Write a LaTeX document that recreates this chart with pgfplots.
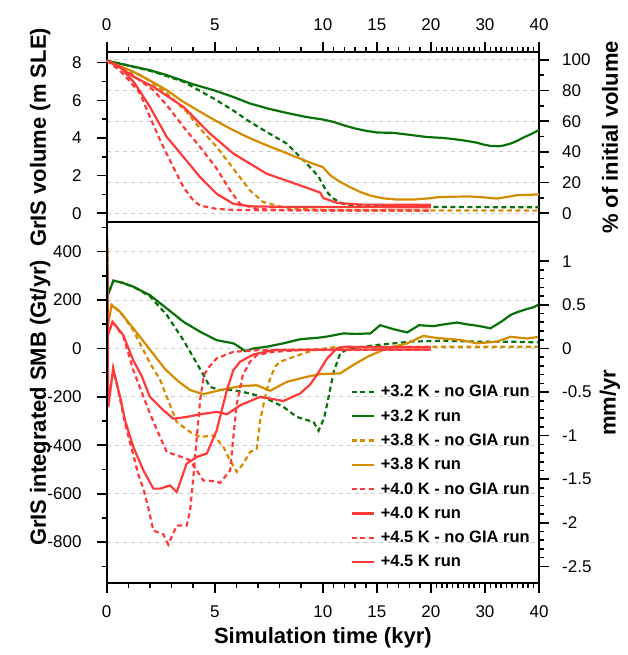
\documentclass[border=0pt]{standalone}
\usepackage{fontspec}
\setmainfont{Liberation Sans}
\usepackage{pgfplots}
\pgfplotsset{compat=1.18}

\definecolor{cgreen}{RGB}{10,112,10}
\definecolor{corange}{RGB}{212,140,0}
\definecolor{cred}{RGB}{255,58,58}

\pgfplotsset{
  panel/.style={
    scale only axis, width=432.3pt,
    axis line style={line width=2pt},
    tick align=outside, major tick length=10pt, minor tick length=5pt,
    every tick/.style={black, line width=1.6pt},
    /pgf/number format/assume math mode=true,
    label style={font=\bfseries\fontsize{22}{22}\selectfont},
    grid style={line width=1pt, gray!40, dash pattern=on 4pt off 4pt},
  },
  gd/.style={cgreen, line width=2.2pt, dash pattern=on 5pt off 3.5pt},
  gs/.style={cgreen, line width=2.2pt},
  od/.style={corange, line width=2.2pt, dash pattern=on 5pt off 3.5pt},
  os/.style={corange, line width=2.2pt},
  rd/.style={cred, line width=2.2pt, dash pattern=on 5pt off 3.5pt},
  rs/.style={cred, line width=2.2pt},
  % tick labels kept off the outward ticks by a blank gap inside the label
  lefttl/.style={yticklabel style={font=\fontsize{17}{17}\selectfont, inner sep=0pt, anchor=east},
    yticklabel={\pgfmathprintnumber{\tick}\hspace*{15pt}}},
  righttl/.style={yticklabel style={font=\fontsize{17}{17}\selectfont, inner sep=0pt, anchor=west}},
}

\begin{document}
\begin{tikzpicture}
\useasboundingbox (0pt,0pt) rectangle (627pt,655pt);

% ---------- top panel: right scale (grid) ----------
\begin{axis}[panel, righttl, at={(106.7pt,432.7pt)}, anchor=south west, height=169.8pt,
  xmin=0, xmax=1, xtick=\empty,
  ymin=-5.9, ymax=104.8, ytick={0,20,...,100}, minor ytick={10,30,50,70,90},
  yticklabels={\hspace*{13pt}0,\hspace*{13pt}20,\hspace*{13pt}40,\hspace*{13pt}60,\hspace*{13pt}80,\hspace*{13pt}100},
  ytick pos=right, yticklabel pos=right, ymajorgrids,
  ylabel={\% of initial volume},
  ylabel style={at={(axis description cs:1.164,0.5)}, anchor=center, rotate=0},
]
\end{axis}

% ---------- top panel: volume ----------
\begin{axis}[panel, lefttl, at={(106.7pt,432.7pt)}, anchor=south west, height=169.8pt,
  x coord trafo/.code={\pgfmathparse{ifthenelse(#1>20,15+(#1-20)/4,ifthenelse(#1>10,10+(#1-10)/2,#1))}},
  xmin=0, xmax=40,
  xtick={0,5,10,15,20,30,40}, xticklabels={0,5,10,15,20,30,40},
  minor xtick={1,2,3,4,6,7,8,9,11,12,13,14,16,17,18,19,21,22,23,24,25,26,27,28,29,31,32,33,34,35,36,37,38,39},
  xtick pos=right, xticklabel pos=right,
  xticklabel style={font=\fontsize{17}{17}\selectfont, inner sep=0pt, anchor=south, yshift=12pt},
  ymin=-0.48, ymax=8.54, ytick={0,2,4,6,8}, minor ytick={1,3,5,7},
  ytick pos=left,
  ylabel={GrIS volume (m SLE)},
  ylabel style={at={(axis description cs:-0.154,0.5)}, anchor=center},
]
\addplot[gd] coordinates {(0,8.1)(1,7.85)(2.16,7.52)(3.55,6.99)(4.94,6.1)(5.8,5.5)(6.63,4.85)(7.5,4.25)(8.33,3.7)(9.26,2.63)(9.8,1.95)(10.06,1.45)(10.5,1.05)(11,0.77)(11.9,0.5)(13,0.42)(15,0.37)(20,0.33)(40,0.32)};
\addplot[gs] coordinates {(0,8.1)(1,7.85)(2,7.6)(2.78,7.34)(4,6.85)(4.94,6.54)(5.8,6.2)(6.63,5.83)(7.5,5.55)(8.33,5.33)(9.2,5.12)(10,4.98)(11,4.85)(11.9,4.68)(13,4.5)(14,4.38)(15,4.29)(16.5,4.27)(18,4.17)(19.6,4.05)(22.3,4.0)(24.5,3.93)(26.7,3.84)(28.5,3.75)(29.7,3.65)(31,3.58)(32.5,3.56)(33.5,3.6)(34.7,3.70)(36,3.85)(37.1,4.02)(38.5,4.2)(40,4.42)};
\addplot[od] coordinates {(0,8.1)(1,7.6)(1.7,7.26)(2.78,6.37)(3.7,5.39)(4.32,4.5)(5.09,3.52)(5.86,2.37)(6.63,1.21)(7.25,0.59)(8.18,0.32)(9,0.22)(10,0.18)(20,0.15)(40,0.14)};
\addplot[os] coordinates {(0,8.1)(1.23,7.52)(2,7.05)(2.78,6.54)(3.5,5.95)(4.32,5.39)(5.1,4.88)(5.86,4.41)(6.6,4.0)(7.4,3.61)(8.2,3.25)(8.95,2.9)(9.5,2.65)(10,2.45)(10.7,2.01)(11.5,1.7)(12.5,1.39)(13.5,1.12)(14.4,0.94)(15.5,0.8)(16.8,0.73)(18.4,0.73)(20,0.8)(21.1,0.85)(24,0.88)(27.3,0.89)(30,0.84)(32.2,0.78)(34,0.86)(35.9,0.96)(38,0.98)(40,1.0)};
\addplot[rd] coordinates {(0,8.1)(1,7.5)(2.16,6.54)(2.78,5.74)(3.55,4.59)(4.32,3.52)(5.09,2.37)(5.71,1.21)(6.17,0.5)(6.94,0.23)(8,0.17)(10,0.15)(20,0.14)};
\addplot[rs] coordinates {(0,8.1)(0.6,7.75)(1.23,7.26)(2.16,6.72)(3.55,5.65)(4.78,4.23)(5.86,3.17)(7.4,2.1)(8.95,1.48)(9.87,1.1)(10.06,0.8)(10.5,0.72)(11.3,0.55)(13.5,0.46)(20,0.45)};
\addplot[rd] coordinates {(0,8.1)(0.6,7.6)(1.0,7.1)(1.54,6.37)(2.0,5.12)(2.47,3.88)(3.08,2.45)(3.55,1.39)(4.01,0.68)(4.32,0.41)(5.09,0.23)(6,0.17)(10,0.15)(20,0.14)};
\addplot[rs] coordinates {(0,8.1)(0.62,7.79)(1.3,6.9)(2.0,5.65)(2.78,4.05)(3.55,2.99)(4.32,1.92)(5.09,1.03)(5.86,0.5)(6.63,0.37)(8,0.34)(10,0.33)(20,0.32)};
\end{axis}

% ---------- bottom panel: SMB ----------
\begin{axis}[panel, lefttl, at={(106.7pt,71.7pt)}, anchor=south west, height=361pt,
  x coord trafo/.code={\pgfmathparse{ifthenelse(#1>20,15+(#1-20)/4,ifthenelse(#1>10,10+(#1-10)/2,#1))}},
  xmin=0, xmax=40,
  xtick={0,5,10,15,20,30,40}, xticklabels={0,5,10,15,20,30,40},
  minor xtick={1,2,3,4,6,7,8,9,11,12,13,14,16,17,18,19,21,22,23,24,25,26,27,28,29,31,32,33,34,35,36,37,38,39},
  xtick pos=left, xticklabel pos=left,
  xticklabel style={font=\fontsize{17}{17}\selectfont, inner sep=0pt, anchor=north, yshift=-12pt},
  ymin=-970, ymax=521, ytick={-800,-600,...,400}, minor ytick={-900,-700,...,500},
  ytick pos=left, ymajorgrids,
  xlabel={Simulation time (kyr)},
  xlabel style={at={(axis description cs:0.5,-0.152)}, anchor=center},
  ylabel={GrIS integrated SMB (Gt/yr)},
  ylabel style={at={(axis description cs:-0.154,0.5)}, anchor=center},
  legend cell align=left,
  legend image code/.code={\draw[#1] (0pt,0pt) -- (22pt,0pt);},
  legend style={at={(0.979,0.549)}, anchor=north east, draw=none, fill=none,
    inner sep=0pt, font=\bfseries\fontsize{16.5}{16.5}\selectfont,
    row sep=11.3pt, column sep=6pt, nodes={inner sep=0pt}},
]
\addplot[gd] coordinates {(0,520)(0.05,220)(0.31,280)(0.7,272)(1.23,255)(2.0,215)(2.78,138)(3.55,34)(4.32,-85)(4.78,-159)(5.25,-172)(5.86,-172)(6.63,-186)(7.4,-207)(8.18,-242)(8.8,-283)(9.57,-304)(9.8,-340)(10.1,-290)(10.4,-230)(11,-97)(11.6,-21)(12.4,0)(15,14)(18.1,28)(22.3,32)(28.5,28)(34.7,28)(40,25)};
\addlegendentry{+3.2 K - no GIA run}
\addplot[gs] coordinates {(0,520)(0.05,220)(0.31,280)(0.7,272)(1.23,255)(2.0,220)(2.78,165)(3.55,110)(4.32,69)(5.09,34)(5.86,21)(6.1,8)(6.4,-11)(6.8,0)(7.4,7)(8.18,21)(8.95,38)(9.87,45)(10.5,50)(11.9,62)(13,60)(14.4,62)(15.3,96)(16.5,80)(17.8,66)(18.9,96)(20.5,92)(22.3,99)(24.8,107)(26.5,100)(27.9,96)(29.5,90)(31,83)(33,110)(34.7,138)(36,150)(37.8,163)(39,170)(40,182)};
\addlegendentry{+3.2 K run}
\addplot[od] coordinates {(0,520)(0.05,96)(0.23,179)(0.62,151)(1.23,75)(2.0,-60)(2.47,-130)(2.78,-200)(3.24,-304)(3.86,-345)(4.32,-366)(4.94,-359)(5.4,-407)(5.71,-462)(6.02,-510)(6.32,-476)(6.63,-428)(6.94,-414)(7.1,-297)(7.4,-172)(7.56,-124)(7.8,-75)(8.02,-55)(8.64,-35)(9.57,-7)(11,5)(15,7)(40,7)};
\addlegendentry{+3.8 K - no GIA run}
\addplot[os] coordinates {(0,520)(0.05,96)(0.23,179)(0.62,151)(1.23,83)(2.0,-5)(2.7,-85)(3.3,-135)(3.86,-172)(4.47,-189)(5.25,-172)(6.17,-156)(6.94,-152)(7.56,-175)(8.33,-138)(9.26,-117)(9.88,-106)(11.6,-103)(12.8,-69)(14.1,-35)(15.9,0)(17.8,21)(19.3,52)(20.5,45)(22.3,41)(25.5,35)(28.5,21)(32.2,28)(34.7,48)(37.8,41)(40,48)};
\addlegendentry{+3.8 K run}
\addplot[rd] coordinates {(0,520)(0.05,55)(0.27,110)(0.77,50)(1.23,-90)(2.0,-269)(2.47,-366)(2.78,-428)(3.39,-446)(3.86,-462)(4.17,-504)(4.47,-545)(4.94,-548)(5.25,-555)(5.71,-504)(5.86,-366)(6.02,-228)(6.3,-110)(6.63,-55)(6.94,-28)(7.71,-14)(9,-7)(20,-5)};
\addlegendentry{+4.0 K - no GIA run}
\addplot[rs] coordinates {(0,520)(0.05,55)(0.27,110)(0.77,55)(1.23,-50)(1.6,-110)(2.0,-200)(2.62,-255)(3.08,-290)(3.7,-283)(4.32,-272)(5.09,-262)(5.56,-272)(6.17,-235)(7.1,-200)(8.18,-217)(8.95,-186)(9.4,-150)(9.72,-110)(10.4,-41)(11.3,0)(12,7)(15,5)(20,5)};
\addlegendentry{+4.0 K run}
\addplot[rd] coordinates {(0,520)(0.07,-242)(0.3,-83)(0.62,-210)(0.85,-310)(1.23,-440)(1.46,-520)(1.7,-580)(1.93,-660)(2.16,-752)(2.62,-768)(2.85,-810)(3.24,-731)(3.7,-731)(3.86,-669)(4.01,-531)(4.17,-366)(4.32,-214)(4.5,-110)(4.7,-80)(5.09,-41)(5.86,-14)(7,-7)(10,-5)(20,-5)};
\addlegendentry{+4.5 K - no GIA run}
\addplot[rs] coordinates {(0,520)(0.07,-242)(0.3,-83)(0.62,-200)(0.85,-297)(1.23,-407)(1.7,-504)(2.16,-579)(2.47,-579)(2.93,-566)(3.24,-593)(3.7,-476)(4.17,-448)(4.63,-434)(5.09,-338)(5.56,-172)(5.86,-90)(6.17,-55)(6.79,-25)(7.7,-7)(10,-5)(20,-5)};
\addlegendentry{+4.5 K run}
\end{axis}

% ---------- bottom panel: right scale ----------
\begin{axis}[panel, righttl, at={(106.7pt,71.7pt)}, anchor=south west, height=361pt,
  xmin=0, xmax=1, xtick=\empty,
  ymin=-2.694, ymax=1.447, ytick={-2.5,-2,...,1},
  yticklabels={\hspace*{13pt}-2.5,\hspace*{13pt}-2,\hspace*{13pt}-1.5,\hspace*{13pt}-1,\hspace*{13pt}-0.5,\hspace*{13pt}0,\hspace*{13pt}0.5,\hspace*{13pt}1},
  minor tick num=4,
  ytick pos=right, yticklabel pos=right,
  ylabel={mm/yr},
  ylabel style={at={(axis description cs:1.164,0.5)}, anchor=center, rotate=0},
]
\end{axis}
\end{tikzpicture}
\end{document}
